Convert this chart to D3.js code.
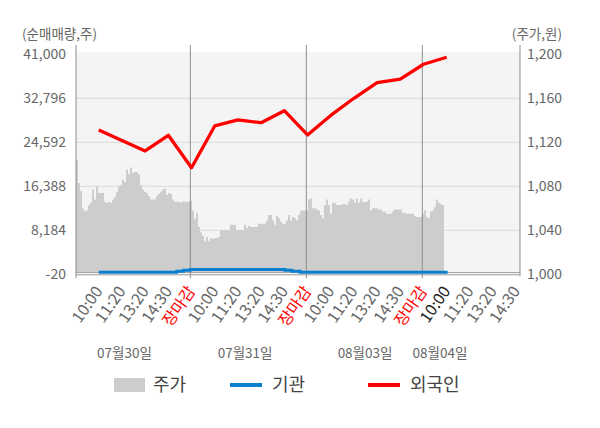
<!DOCTYPE html>
<html><head><meta charset="utf-8">
<script src="https://cdn.jsdelivr.net/npm/d3@7"></script>
<style>
body{margin:0;background:#fff;}
text{font-family:"Noto Sans CJK KR","Noto Sans",sans-serif;}
</style></head>
<body><svg id="c" width="600" height="428"></svg>
<script>
// ---- data ----
const tickLabels = ["10:00","11:20","13:20","14:30","장마감",
                    "10:00","11:20","13:20","14:30","장마감",
                    "10:00","11:20","13:20","14:30","장마감",
                    "10:00","11:20","13:20","14:30"];
const tickSlots = [1,2,3,4,5,6,7,8,9,10,11,12,13,14,15,16,17,18,19];
const closeLabel = "장마감";
const currentSlot = 16;
const daySeparatorSlots = [5,10,15];
const dateLabels = ["07월30일","07월31일","08월03일","08월04일"];
const dateLabelSlots = [2.11, 7.31, 12.48, 15.71];
const leftTicks = [-20, 8184, 16388, 24592, 32796, 41000];
const rightTicks = [1000, 1040, 1080, 1120, 1160, 1200];

// 주가 (price, won) sampled along time from start of 07/30 to 10:00 of 08/04
const priceStartSlot = 0.02, priceEndSlot = 15.88;
const priceValues = [
1104,1083,1076,1060,1057,1058,1063,1065,1077,1068,
1080,1074,1074,1074,1066,1065,1066,1065,1068,1070,
1075,1080,1081,1086,1084,1095,1091,1097,1092,1093,
1093,1091,1081,1077,1075,1074,1071,1068,1068,1068,
1071,1073,1075,1077,1078,1072,1074,1073,1068,
1066,1066,1066,1065,1066,1066,1066,1066,1067,1058,
1050,1056,1043,1038,1035,1030,1034,1030,1033,1032,
1033,1033,1034,1040,1040,1040,1040,1040,1045,1045,
1045,1040,1040,1040,1040,1045,1042,1044,1043,1043,
1043,1043,1046,1046,1046,1046,1049,1054,
1054,1049,1045,1053,1051,1048,1046,1046,1049,1054,
1049,1052,1051,1049,1054,1058,1058,1058,1058,1068,
1069,1060,1060,1059,1058,1054,1051,1063,1068,1063,
1055,1065,1065,1063,1063,1063,1064,1064,1063,1066,
1069,1068,1065,1069,1065,1069,1066,1066,
1066,1068,1058,1060,1060,1060,1059,1059,1057,1057,
1055,1055,1055,1057,1059,1059,1059,1059,1056,1056,
1055,1055,1055,1055,1053,1052,1052,1052,1055,1058,
1052,1051,1057,1058,1061,1068,1065,1064,1063,1066
];

// 외국인 (foreign net buying, shares)
const foreignSlots = [1,2,3,4,5,6,7,8,9,10,11,12,13,14,15,16];
const foreignValues = [26890,24930,22975,25900,19860,27640,28760,28250,30490,25960,29600,32800,35710,36350,39145,40450];

// 기관 (institution net buying, shares)
const instSlots = [1, 4.36, 4.65, 4.94, 9.03, 9.32, 9.68, 16.04];
const instValues = [372, 558, 726, 875, 726, 558, 372, 372];

// ---- layout ----
const L = 76, R = 520, T = 54.3, B = 274.3;
const x = d3.scaleLinear().domain([0.02, 19.16]).range([L, R]);
const yL = d3.scaleLinear().domain([-20, 41000]).range([B, T]);
const yR = d3.scaleLinear().domain([1000, 1200]).range([B, T]);
const svg = d3.select("#c");

svg.append("rect").attr("x", L).attr("y", T - 2.5).attr("width", R - L).attr("height", B - T + 3)
  .attr("fill", "#f4f4f4");

svg.append("g").selectAll("line").data(leftTicks.slice(1, -1)).join("line")
  .attr("x1", L).attr("x2", R).attr("y1", d => yL(d)).attr("y2", d => yL(d))
  .attr("stroke", "#d9d9d9").attr("stroke-width", 1);

// price area
const pIdx = d3.scaleLinear().domain([0, priceValues.length - 1]).range([priceStartSlot, priceEndSlot]);
const area = d3.area()
  .x((d, i) => x(pIdx(i)))
  .y0(yR(1000) - 2)
  .y1(d => yR(d))
  .curve(d3.curveStepAfter);
svg.append("path").datum(priceValues).attr("d", area).attr("fill", "#cdcdcd");

// bottom lines
svg.append("line").attr("x1", L).attr("x2", R).attr("y1", B - 1.8).attr("y2", B - 1.8)
  .attr("stroke", "#a8a8a8").attr("stroke-width", 1);
svg.append("line").attr("x1", L).attr("x2", R).attr("y1", B + 0.5).attr("y2", B + 0.5)
  .attr("stroke", "#9a9a9a").attr("stroke-width", 1);

// separators and axis lines
svg.append("g").selectAll("line").data(daySeparatorSlots).join("line")
  .attr("x1", d => x(d) - 1.2).attr("x2", d => x(d) - 1.2).attr("y1", 45).attr("y2", B + 4)
  .attr("stroke", "#8c8c8c").attr("stroke-width", 1);
svg.append("line").attr("x1", L).attr("x2", L).attr("y1", 45).attr("y2", B + 4)
  .attr("stroke", "#8c8c8c").attr("stroke-width", 1);
svg.append("line").attr("x1", R).attr("x2", R).attr("y1", 45).attr("y2", B + 2)
  .attr("stroke", "#8c8c8c").attr("stroke-width", 1);

// institution line
const instData = instSlots.map((s, i) => [s, instValues[i]]);
svg.append("path").datum(instData)
  .attr("d", d3.line().x(d => x(d[0])).y(d => yL(d[1])).curve(d3.curveStepAfter))
  .attr("fill", "none").attr("stroke", "#0a7fd0").attr("stroke-width", 3);

// foreign line
const forData = foreignSlots.map((s, i) => [s, foreignValues[i]]);
svg.append("path").datum(forData)
  .attr("d", d3.line().x(d => x(d[0])).y(d => yL(d[1])))
  .attr("fill", "none").attr("stroke", "#ff0000").attr("stroke-width", 3.3)
  .attr("stroke-linejoin", "round");

// left axis labels
const fmt = d3.format(",");
const fmtNum = d => (d < 0 ? "-" : "") + fmt(Math.abs(d));
svg.append("g").selectAll("text").data(leftTicks).join("text")
  .attr("x", 66).attr("y", d => yL(d)).attr("dy", "0.35em")
  .attr("text-anchor", "end").attr("font-size", 14).attr("fill", "#666")
  .text(d => fmtNum(d));
// right axis labels
svg.append("g").selectAll("text").data(rightTicks).join("text")
  .attr("x", 527).attr("y", d => yR(d)).attr("dy", "0.35em")
  .attr("text-anchor", "start").attr("font-size", 14).attr("fill", "#666")
  .text(d => fmtNum(d));

// titles
svg.append("text").attr("x", 22).attr("y", 39).attr("font-size", 13.5).attr("fill", "#666").text("(순매매량,주)");
svg.append("text").attr("x", 562).attr("y", 39).attr("text-anchor", "end").attr("font-size", 13.5).attr("fill", "#666").text("(주가,원)");

// x tick labels
svg.append("g").selectAll("text").data(tickSlots).join("text")
  .attr("transform", (d) => `translate(${x(d) + 4.5},${B + 17}) rotate(-55)`)
  .attr("text-anchor", "end").attr("font-size", 16)
  .attr("fill", (d, i) => tickLabels[i] === closeLabel ? "#ff0000" : (d === currentSlot ? "#222" : "#666"))
  .text((d, i) => tickLabels[i]);

// date labels
svg.append("g").selectAll("text").data(dateLabels).join("text")
  .attr("x", (d, i) => x(dateLabelSlots[i])).attr("y", 353).attr("dy", "0.35em")
  .attr("text-anchor", "middle").attr("font-size", 13.5).attr("fill", "#666")
  .text(d => d);

// legend
const lg = svg.append("g");
lg.append("rect").attr("x", 114).attr("y", 378).attr("width", 31).attr("height", 14).attr("fill", "#cdcdcd");
lg.append("text").attr("x", 153).attr("y", 385).attr("dy", "0.35em").attr("font-size", 18).attr("fill", "#444").text("주가");
lg.append("line").attr("x1", 230).attr("x2", 262).attr("y1", 385).attr("y2", 385).attr("stroke", "#0a7fd0").attr("stroke-width", 4);
lg.append("text").attr("x", 272).attr("y", 385).attr("dy", "0.35em").attr("font-size", 18).attr("fill", "#444").text("기관");
lg.append("line").attr("x1", 368).attr("x2", 400).attr("y1", 385).attr("y2", 385).attr("stroke", "#ff0000").attr("stroke-width", 4);
lg.append("text").attr("x", 410).attr("y", 385).attr("dy", "0.35em").attr("font-size", 18).attr("fill", "#444").text("외국인");
</script>
</body></html>
